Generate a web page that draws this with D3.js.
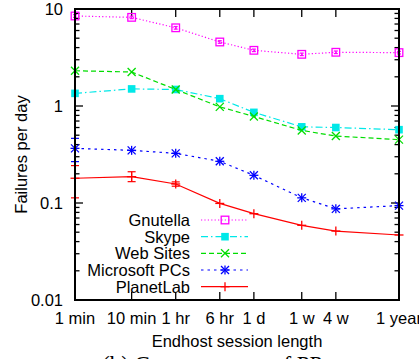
<!doctype html>
<html>
<head>
    <style>
        body {
            margin: 0;
            background: #fff;
            font-family: 'Liberation Sans', Arial, sans-serif;
        }

        text {
            font-size: 16.5px;
            fill: #000;
        }

        text.caption {
            font-family: 'Liberation Serif', 'Times New Roman', serif;
            font-size: 23px;
        }

        .border {
            fill: none;
            stroke: #000;
            stroke-width: 2;
        }

        .tick-mark {
            stroke: #000;
            stroke-width: 1.3;
        }
    </style>
    <script src="https://d3js.org/d3.v7.min.js"></script>
</head>
<body>
<svg width="419" height="359"></svg>
<script>
    // session length in minutes, and its labels
    const sessionMinutes = [1, 10, 60, 360, 1440, 10080, 40320, 525600];
    const sessionLabels = ['1 min', '10 min', '1 hr', '6 hr', '1 d', '1 w', '4 w', '1 year'];

    const yTicks = [0.01, 0.1, 1, 10];
    const yTickLabels = ['0.01', '0.1', '1', '10'];

    const seriesNames = ['Gnutella', 'Skype', 'Web Sites', 'Microsoft PCs', 'PlanetLab'];

    const gnutella = [8.47, 8.2, 6.4, 4.57, 3.75, 3.41, 3.58, 3.55];
    const skype = [1.35, 1.5, 1.48, 1.19, 0.86, 0.61, 0.6, 0.57];
    const webSites = [2.31, 2.24, 1.48, 0.98, 0.78, 0.56, 0.49, 0.45];
    const microsoftPCs = [0.366, 0.349, 0.325, 0.269, 0.193, 0.113, 0.087, 0.094];
    const planetLab = [0.18, 0.187, 0.157, 0.099, 0.0776, 0.0589, 0.0514, 0.0468];

    // error bars that show outside the markers (low, high); null = none visible
    const gnutellaErr = [[8.2, 8.75], [7.95, 8.45], [6.2, 6.6], [4.43, 4.71], [3.64, 3.86], [3.31, 3.51], [3.47, 3.69], [3.44, 3.66]];
    const microsoftErr = [[0.267, 0.464], null, null, null, null, null, null, null];
    const planetLabErr = [[0.113, 0.243], [0.166, 0.21], [0.149, 0.165], null, null, null, null, null];

    const svg = d3.select('svg');

    const plotLeft = 75, plotRight = 399, plotTop = 9, plotBottom = 300;

    const x = d3.scaleLog().domain([1, 525600]).range([plotLeft, plotRight]);
    const y = d3.scaleLog().domain([0.01, 10]).range([plotBottom, plotTop]);

    const series = [
        { name: seriesNames[0], values: gnutella, err: gnutellaErr, color: '#ff00ff', dash: '1.2,2.2', marker: 'box' },
        { name: seriesNames[1], values: skype, err: null, color: '#00e8e8', dash: '7,3,1.5,3', marker: 'fbox' },
        { name: seriesNames[2], values: webSites, err: null, color: '#00dd00', dash: '5,3', marker: 'x' },
        { name: seriesNames[3], values: microsoftPCs, err: microsoftErr, color: '#0000ff', dash: '2.5,4', marker: 'star' },
        { name: seriesNames[4], values: planetLab, err: planetLabErr, color: '#ff0000', dash: null, marker: 'plus' }
    ];

    function drawMarker(g, type, cx, cy, color) {
        const s = 4;
        if (type === 'box') {
            g.append('rect')
                .attr('x', cx - 3.8).attr('y', cy - 3.8)
                .attr('width', 7.6).attr('height', 7.6)
                .attr('fill', 'none').attr('stroke', color).attr('stroke-width', 1.3);
        } else if (type === 'fbox') {
            g.append('rect')
                .attr('x', cx - 3.8).attr('y', cy - 3.8)
                .attr('width', 7.6).attr('height', 7.6)
                .attr('fill', color);
        } else {
            let segs = [];
            if (type === 'x' || type === 'star') {
                segs.push([cx - s, cy - s, cx + s, cy + s], [cx - s, cy + s, cx + s, cy - s]);
            }
            if (type === 'plus' || type === 'star') {
                segs.push([cx - s - 0.5, cy, cx + s + 0.5, cy], [cx, cy - s - 0.5, cx, cy + s + 0.5]);
            }
            segs.forEach(p => {
                g.append('line')
                    .attr('x1', p[0]).attr('y1', p[1]).attr('x2', p[2]).attr('y2', p[3])
                    .attr('stroke', color).attr('stroke-width', 1.3);
            });
        }
    }

    // ticks (inward, mirrored)
    const ticks = svg.append('g');
    const minor = [];
    [0.01, 0.1, 1].forEach(d => { for (let k = 2; k <= 9; k++) minor.push(d * k); });
    minor.forEach(v => {
        ticks.append('line').attr('class', 'tick-mark')
            .attr('x1', plotLeft).attr('x2', plotLeft + 4.5).attr('y1', y(v)).attr('y2', y(v));
        ticks.append('line').attr('class', 'tick-mark')
            .attr('x1', plotRight).attr('x2', plotRight - 4.5).attr('y1', y(v)).attr('y2', y(v));
    });
    yTicks.forEach((v, i) => {
        ticks.append('line').attr('class', 'tick-mark')
            .attr('x1', plotLeft).attr('x2', plotLeft + 8).attr('y1', y(v)).attr('y2', y(v));
        ticks.append('line').attr('class', 'tick-mark')
            .attr('x1', plotRight).attr('x2', plotRight - 8).attr('y1', y(v)).attr('y2', y(v));
        svg.append('text')
            .attr('x', plotLeft - 12).attr('y', y(v))
            .attr('dy', '0.36em')
            .attr('text-anchor', 'end')
            .text(yTickLabels[i]);
    });
    sessionMinutes.forEach((v, i) => {
        ticks.append('line').attr('class', 'tick-mark')
            .attr('x1', x(v)).attr('x2', x(v)).attr('y1', plotBottom).attr('y2', plotBottom - 8);
        ticks.append('line').attr('class', 'tick-mark')
            .attr('x1', x(v)).attr('x2', x(v)).attr('y1', plotTop).attr('y2', plotTop + 8);
        svg.append('text')
            .attr('x', x(v)).attr('y', 324)
            .attr('text-anchor', 'middle')
            .text(sessionLabels[i]);
    });

    // legend
    const legendY = [220, 236.7, 253.3, 270, 286.7];
    series.forEach((s, i) => {
        const lg = svg.append('g');
        lg.append('text')
            .attr('x', 190).attr('y', legendY[i])
            .attr('dy', '0.36em')
            .attr('text-anchor', 'end')
            .text(s.name);
        lg.append('line')
            .attr('x1', 201).attr('x2', 248)
            .attr('y1', legendY[i]).attr('y2', legendY[i])
            .attr('stroke', s.color).attr('stroke-width', 1.2)
            .attr('stroke-dasharray', s.dash);
        drawMarker(lg, s.marker, 225, legendY[i], s.color);
    });

    // data lines, error bars and markers
    const line = d3.line()
        .x((d, i) => x(sessionMinutes[i]))
        .y(d => y(d));

    series.forEach(s => {
        const g = svg.append('g');
        g.append('path')
            .attr('d', line(s.values))
            .attr('fill', 'none')
            .attr('stroke', s.color)
            .attr('stroke-width', 1.2)
            .attr('stroke-dasharray', s.dash);
        if (s.err) {
            s.err.forEach((e, i) => {
                if (!e) return;
                const cx = x(sessionMinutes[i]);
                const cap = s.marker === 'box' ? 2 : 4;
                g.append('line')
                    .attr('x1', cx).attr('x2', cx).attr('y1', y(e[0])).attr('y2', y(e[1]))
                    .attr('stroke', s.color).attr('stroke-width', 1.2);
                [e[0], e[1]].forEach(v => {
                    g.append('line')
                        .attr('x1', cx - cap).attr('x2', cx + cap).attr('y1', y(v)).attr('y2', y(v))
                        .attr('stroke', s.color).attr('stroke-width', 1.2);
                });
            });
        }
        s.values.forEach((v, i) => drawMarker(g, s.marker, x(sessionMinutes[i]), y(v), s.color));
    });

    svg.append('rect')
        .attr('class', 'border')
        .attr('x', plotLeft).attr('y', plotTop)
        .attr('width', plotRight - plotLeft).attr('height', plotBottom - plotTop);

    // axis titles
    svg.append('text')
        .attr('transform', `translate(27, ${(plotTop + plotBottom) / 2}) rotate(-90)`)
        .attr('text-anchor', 'middle')
        .text('Failures per day');

    svg.append('text')
        .attr('x', 237).attr('y', 347)
        .attr('text-anchor', 'middle')
        .text('Endhost session length');

    // caption of the figure, cut off by the bottom edge
    svg.append('text')
        .attr('class', 'caption')
        .attr('x', 102).attr('y', 372)
        .text('(b) Consequences of PP');
</script>
</body>
</html>
